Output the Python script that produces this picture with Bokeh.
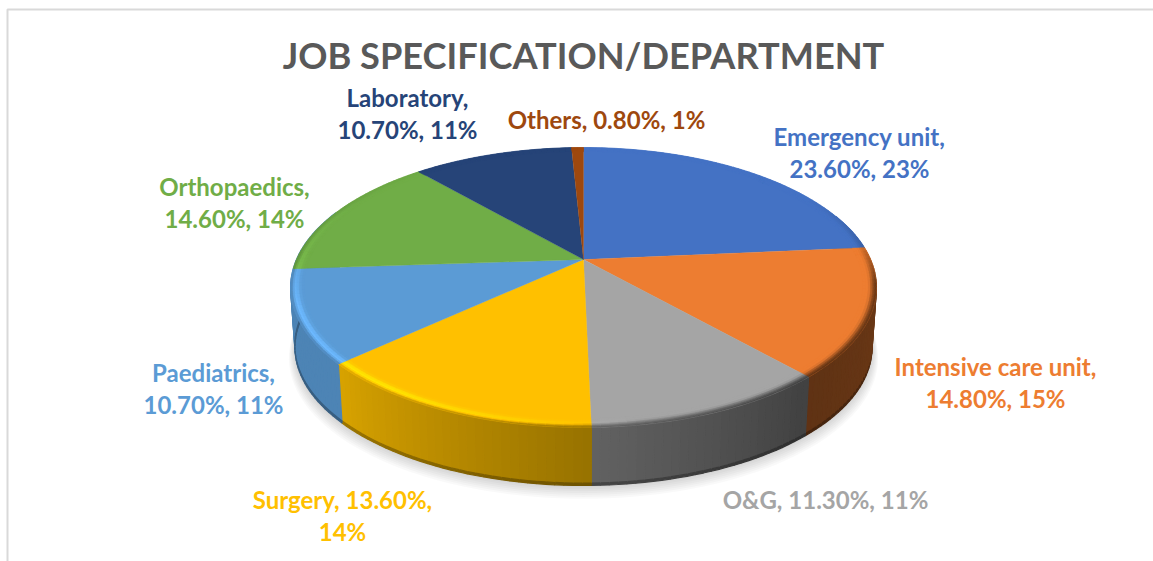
import math
from bokeh.plotting import figure
from bokeh.models import Range1d
from bokeh.core.properties import value
from bokeh.embed import file_html
from bokeh.resources import INLINE

TITLE = "JOB SPECIFICATION/DEPARTMENT"
categories = ["Emergency unit", "Intensive care unit", "O&G", "Surgery", "Paediatrics", "Orthopaedics", "Laboratory", "Others"]
shares = [23.6, 14.8, 11.3, 13.6, 10.7, 14.6, 10.7, 0.8]
rounded = [23, 15, 11, 14, 11, 14, 11, 1]
colors = ["#4472c4", "#ed7d31", "#a5a5a5", "#ffc000", "#5b9bd5", "#70ad47", "#264478", "#9e480e"]

label_lines = [
    ["Emergency unit,", "23.60%, 23%"],
    ["Intensive care unit,", "14.80%, 15%"],
    ["O&G, 11.30%, 11%"],
    ["Surgery, 13.60%,", "14%"],
    ["Paediatrics,", "10.70%, 11%"],
    ["Orthopaedics,", "14.60%, 14%"],
    ["Laboratory,", "10.70%, 11%"],
    ["Others, 0.80%, 1%"],
]
label_x = [859, 995, 825, 342, 213, 234, 407, 606]
label_y = [136, 366, 499, 499, 372, 186, 97, 119]
LINE_GAP = 31.5

# pie projection (screen-pixel data space)
CX, CY = 583, 259
A, B, K = 287, 134.4, 0.2
DEPTH, BOTTOM_SCALE = 60.5, 0.985

side_theta = [0, 60, 85, 100, 140, 180, 228, 270, 300, 330, 360]
side_factor = [1, 1, .85, .45, .40, .60, .85, .85, .95, 1, 1]
glow_theta = [0, 170, 215, 250, 270, 300, 360]
glow_level = [0, 0, 1, 1, .35, 0, 0]


def lerp_table(x, xs, ys):
    for i in range(len(xs) - 1):
        if xs[i] <= x <= xs[i + 1]:
            t = (x - xs[i]) / (xs[i + 1] - xs[i])
            return ys[i] + t * (ys[i + 1] - ys[i])
    return ys[-1]


def project(theta_deg, r=1.0):
    th = math.radians(theta_deg)
    u, v = r * math.sin(th), r * math.cos(th)
    d = 1 + K * v
    return A * u / d, B * v / d


def top_pt(theta, r=1.0):
    x, y = project(theta, r)
    return CX + x, CY - y


def low_pt(theta, frac=1.0, grow=0.0, dy=0.0):
    x, y = project(theta)
    s = 1 + (BOTTOM_SCALE - 1) * frac + grow
    return CX + x * s, CY + DEPTH * frac - y * s + dy


def rgb(c):
    return [int(c[i:i + 2], 16) for i in (1, 3, 5)]


def hexc(vals):
    return "#%02x%02x%02x" % tuple(max(0, min(255, round(v))) for v in vals)


def smooth(a, b, t):
    t = max(0, min(1, (t - a) / (b - a)))
    return t * t * (3 - 2 * t)


total = sum(shares)
edges = [0.0]
for s in shares:
    edges.append(edges[-1] + s / total * 360)


def steps(a, b, d):
    n = max(1, math.ceil((b - a) / d))
    return [a + (b - a) * i / n for i in range(n + 1)]


p = figure(width=1153, height=561, x_range=Range1d(0, 1153), y_range=Range1d(561, 0),
           toolbar_location=None, output_backend="svg", min_border=0,
           background_fill_color="white", border_fill_color="white", outline_line_color=None)
p.axis.visible = False
p.grid.visible = False

# chart frame
p.line(x=[7, 7, 1153], y=[561, 9, 9], line_color="#d9d9d9", line_width=2)

# soft shadow
sweep = steps(60, 300, 2)
for i in range(1, 8):
    xs, ys = [], []
    for t in sweep:
        x, y = low_pt(t, 1.0, grow=0.003 * i, dy=1.4 * i)
        xs.append(x); ys.append(y)
    p.patch(xs, ys, fill_color="#000000", fill_alpha=0.022, line_color=None)

# side wall with gradient strips (the slice that crosses LEFT_TURN
# wraps the visible left edge of the wall; later slices have no visible wall)
WALL_START, WALL_END, LEFT_TURN = 70, 292, 260
sx, sy, sc = [], [], []
for i, base in enumerate(colors):
    if edges[i] >= LEFT_TURN:
        continue
    a = max(edges[i], WALL_START)
    b = WALL_END if edges[i + 1] > LEFT_TURN else edges[i + 1]
    if a >= b:
        continue
    tt = steps(a, b, 1.5)
    c0 = rgb(base)
    for t0, t1 in zip(tt[:-1], tt[1:]):
        f = lerp_table((t0 + t1) / 2, side_theta, side_factor)
        for fa, fb, m in ((0, .96, 1.0), (.96, 1.0, .72)):
            p0, p1 = low_pt(t0, fa), low_pt(t1, fa)
            p2, p3 = low_pt(t1, fb), low_pt(t0, fb)
            sx.append([p0[0], p1[0], p2[0], p3[0]])
            sy.append([p0[1], p1[1], p2[1], p3[1]])
            sc.append(hexc([v * f * m for v in c0]))
p.patches(sx, sy, fill_color=sc, line_color=sc, line_width=1.2)

# flat top sectors
for i, base in enumerate(colors):
    tt = steps(edges[i], edges[i + 1], 1)
    xs = [CX] + [top_pt(t)[0] for t in tt]
    ys = [CY] + [top_pt(t)[1] for t in tt]
    p.patch(xs, ys, fill_color=base, line_color=base, line_width=0.3)

# bevel rings around the rim
rings = [0.955, 0.964, 0.973, 0.981, 0.988, 0.994, 1.0]
bx, by, bc = [], [], []
for i, base in enumerate(colors):
    tt = steps(edges[i], edges[i + 1], 1.5)
    c0 = rgb(base)
    for t0, t1 in zip(tt[:-1], tt[1:]):
        tm = (t0 + t1) / 2
        f = lerp_table(tm, side_theta, side_factor)
        g = lerp_table(tm, glow_theta, glow_level)
        for r0, r1 in zip(rings[:-1], rings[1:]):
            q = ((r0 + r1) / 2 - rings[0]) / (1 - rings[0])
            peak = math.exp(-((q - 0.62) / 0.26) ** 2)
            bright = 1 + 0.2 * g * peak
            start = 0.35 + 0.37 * min(1, g / 0.5)
            dark = 1 + (f - 1) * smooth(start, 1.0, q)
            a0, a1 = top_pt(t0, r0), top_pt(t1, r0)
            a2, a3 = top_pt(t1, r1), top_pt(t0, r1)
            bx.append([a0[0], a1[0], a2[0], a3[0]])
            by.append([a0[1], a1[1], a2[1], a3[1]])
            bc.append(hexc([v * bright * dark for v in c0]))
p.patches(bx, by, fill_color=bc, line_color=bc, line_width=0.5)

# title and data labels
p.text(x=[583], y=[54], text=[TITLE], text_font=value("Lato"), text_font_style="bold",
       text_font_size="36.2px", text_color="#595959", text_align="center", text_baseline="middle")

for lines, lx, ly, c in zip(label_lines, label_x, label_y, colors):
    p.text(x=[lx] * len(lines), y=[ly + LINE_GAP * k for k in range(len(lines))], text=lines,
           text_font=value("Lato"), text_font_style="bold", text_font_size="24px",
           text_color=c, text_align="center", text_baseline="middle")

open("out.html", "w").write(file_html(p, INLINE))
